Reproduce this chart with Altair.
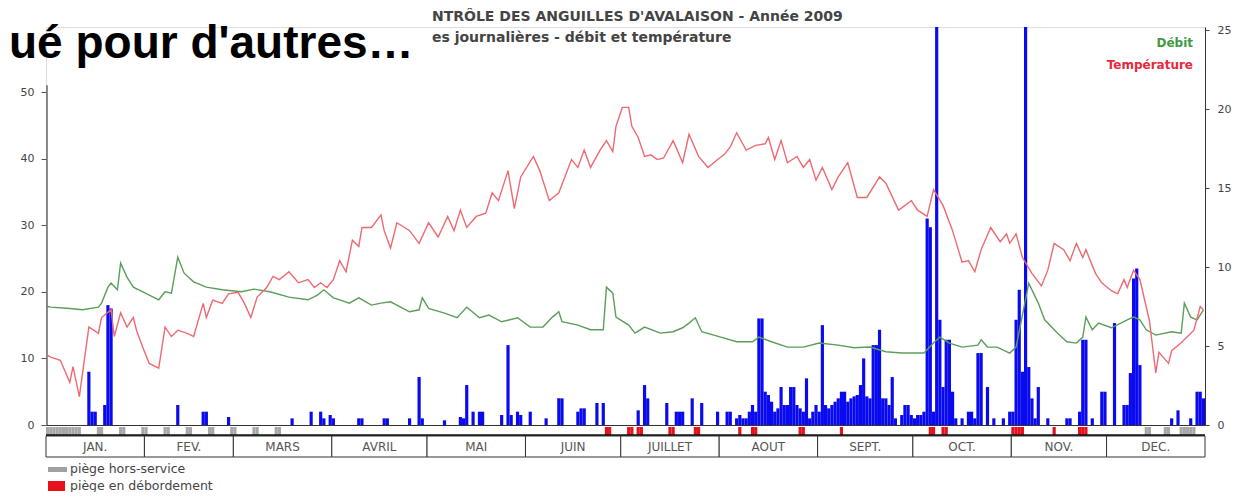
import altair as alt
import pandas as pd

FONT = "Liberation Sans"
WFONT = "DejaVu Sans"

# ---------------- data ----------------
temp_day = [1, 2, 5, 8, 9, 11, 14, 17, 18, 21, 22, 24, 26, 28, 29, 31, 33, 36, 38, 40, 42, 45, 47, 50, 51, 53, 56, 58,
            61, 63, 65, 67, 70, 72, 74, 77, 80, 83, 85, 87, 89, 91, 93, 95, 97, 99, 100, 103, 106, 107, 109, 111, 115,
            118, 121, 124, 127, 129, 131, 133, 136, 139, 141, 143, 146, 147, 148, 150, 154, 156, 159, 162, 166, 168,
            170, 172, 175, 177, 179, 180, 182, 184, 185, 187, 189, 191, 193, 195, 198, 201, 203, 206, 209, 212, 214,
            216, 218, 221, 224, 227, 228, 230, 232, 234, 237, 239, 241, 243, 245, 248, 250, 253, 256, 259, 263, 265,
            269, 273, 275, 278, 280, 283, 286, 289, 291, 293, 295, 298, 301, 303, 304, 306, 308, 311, 314, 316, 318,
            321, 323, 325, 327, 328, 331, 333, 336, 338, 340, 341, 343, 345, 348, 350, 351, 354, 355, 358, 360, 362,
            364, 365]
temp_val = [4.4, 4.3, 4.1, 2.7, 3.7, 1.8, 6.2, 5.8, 6.8, 7.3, 5.6, 7.1, 6.2, 6.8, 6.0, 4.9, 3.9, 3.6, 6.2, 5.6, 6.0,
            5.8, 5.6, 7.7, 6.8, 7.9, 7.7, 8.3, 8.4, 7.7, 6.8, 8.1, 8.7, 9.4, 9.2, 9.7, 9.0, 9.2, 8.7, 9.0, 8.7, 9.2,
            10.4, 9.7, 11.7, 11.3, 12.5, 12.5, 13.3, 12.3, 11.2, 12.8, 12.3, 11.5, 12.8, 11.9, 13.2, 12.3, 13.6, 12.5,
            13.2, 13.4, 14.7, 14.2, 16.1, 14.9, 13.7, 15.7, 17.0, 16.1, 14.2, 14.7, 16.8, 16.3, 17.4, 16.3, 17.4,
            18.0, 17.3, 18.9, 20.1, 20.1, 18.9, 18.2, 17.0, 17.1, 16.8, 16.9, 18.0, 16.6, 18.4, 17.0, 16.3, 16.8,
            17.1, 17.6, 18.5, 17.4, 17.7, 17.8, 18.2, 16.8, 18.0, 16.6, 17.0, 16.3, 16.8, 15.5, 16.3, 14.9, 15.7,
            16.6, 14.4, 14.4, 15.7, 15.3, 13.6, 14.2, 13.6, 13.2, 14.9, 13.9, 12.3, 10.3, 10.4, 9.7, 11.1, 12.5,
            11.6, 12.1, 11.5, 12.1, 10.6, 9.6, 8.8, 9.8, 11.5, 11.1, 10.4, 11.5, 10.6, 11.1, 9.6, 9.0, 8.5, 8.3,
            9.2, 8.7, 9.8, 9.2, 6.6, 3.3, 4.6, 3.9, 4.7, 5.2, 5.6, 6.0, 7.5, 7.3]

debit_day = [1, 2, 8, 12, 17, 18, 20, 21, 23, 24, 26, 28, 31, 36, 38, 40, 42, 44, 47, 51, 56, 62, 66, 71, 77, 83, 86,
             88, 91, 93, 96, 99, 103, 106, 109, 115, 118, 119, 121, 126, 130, 133, 137, 140, 144, 149, 153, 157, 160,
             162, 163, 168, 172, 176, 177, 179, 180, 184, 186, 189, 194, 198, 201, 203, 205, 207, 213, 218, 223, 225,
             229, 234, 239, 244, 250, 255, 260, 265, 270, 277, 280, 282, 285, 289, 294, 295, 297, 300, 304, 306, 310,
             313, 315, 319, 322, 325, 327, 328, 330, 332, 336, 339, 341, 343, 345, 347, 350, 355, 358, 359, 361, 363,
             365]
debit_val = [17.8, 17.7, 17.5, 17.3, 17.7, 18.3, 20.7, 21.3, 20.3, 24.3, 22.2, 20.7, 20.0, 18.8, 20.0, 19.8, 25.2,
             22.8, 21.5, 20.7, 20.3, 20.0, 20.4, 20.0, 19.2, 18.8, 19.5, 20.3, 19.1, 18.8, 18.3, 19.1, 18.0, 18.3,
             18.5, 17.0, 17.3, 19.1, 17.5, 16.8, 16.1, 17.7, 16.1, 16.5, 15.5, 16.1, 14.7, 14.7, 16.2, 17.0, 15.5,
             15.0, 14.3, 14.3, 20.7, 19.8, 16.2, 15.0, 13.8, 14.7, 13.8, 14.0, 14.6, 15.3, 16.1, 14.0, 13.2, 12.5,
             12.5, 13.2, 12.5, 11.7, 11.7, 12.3, 12.0, 11.6, 11.7, 11.0, 10.8, 10.8, 12.3, 13.2, 12.3, 11.7, 12.0,
             12.8, 11.7, 11.7, 10.8, 11.7, 21.3, 18.3, 15.8, 13.8, 12.5, 12.3, 13.2, 16.2, 14.3, 15.3, 14.6, 15.3,
             15.8, 16.2, 15.8, 14.3, 13.5, 14.0, 13.8, 18.3, 16.2, 15.8, 17.3]

bar_day = [14, 15, 16, 19, 20, 21, 42, 50, 51, 58, 78, 84, 87, 88, 90, 91, 99, 100, 107, 108, 115, 118, 119, 126,
           131, 132, 133, 135, 137, 138, 144, 146, 147, 149, 150, 153, 158, 162, 163, 168, 169, 170, 174, 176,
           187, 189, 190, 196, 199, 200, 201, 204, 207, 212, 215, 216, 218, 219, 220, 221, 222, 223, 224, 225, 226,
           227, 228, 229, 230, 231, 232, 233, 234, 235, 236, 237, 238, 239, 240, 241, 242, 243, 244, 245, 246, 247,
           248, 249, 250, 251, 252, 253, 254, 255, 256, 257, 258, 259, 260, 261, 262, 263, 264, 265, 266, 267, 268,
           270, 271, 272, 273, 274, 275, 276, 277, 278, 279, 280, 281, 282, 283, 284, 285, 286, 287, 289, 291, 292,
           293, 294, 295, 297, 299, 302, 304, 305, 306, 307, 308, 309, 310, 311, 312, 313, 316, 322, 323, 326, 327,
           328, 330, 333, 334, 337, 340, 341, 342, 343, 344, 345, 355, 357, 361, 363, 364, 365]
bar_val = [8, 2, 2, 3, 18, 17.5, 3, 2, 2, 1.2, 1, 2, 2, 1, 1.5, 1, 1, 1, 1, 1, 1, 7.2, 1, 0.7,
           1.2, 1, 6, 2, 2, 2, 1.5, 12, 1.5, 2, 1.5, 2, 1, 4, 4, 2, 2.5, 2.5, 3.3, 3.3,
           2.2, 6, 4, 3.3, 2, 2, 2, 4, 3.3, 2, 2, 2, 1, 1.5, 1, 1, 2, 3, 2, 16, 16,
           5, 4.5, 3.5, 2, 2.5, 5.7, 3, 3, 5.7, 5.7, 3, 2.5, 2, 7, 1, 2, 3, 2, 15, 3, 2.5,
           3, 3.5, 4, 5, 5, 3.5, 4, 4.3, 4.5, 6, 10, 4.3, 4, 12, 12, 14.3, 4, 4, 3, 7.2, 1,
           1.5, 3, 3, 1.5, 1, 1.5, 1.5, 2, 31, 29.7, 2, 60, 15.8, 5.7, 12.8, 12.8, 5, 1, 1, 2, 2,
           1, 10.8, 10.8, 5.7, 1, 1, 2, 2, 15.8, 20.3, 8, 60, 8.7, 4, 1, 5.7, 1, 1, 1, 2, 12.8,
           12.8, 1, 5, 5, 15.3, 3, 3, 7.8, 22, 23.5, 9, 1, 2.2, 1, 5, 5, 4]

# piège hors-service (grey) and piège en débordement (red) days
hs_days = [1, 2, 3, 4, 5, 6, 7, 8, 9, 10, 11, 17, 18, 24, 25, 31, 32, 38, 39, 45, 46, 52, 53, 59, 60, 66, 67,
           73, 74, 347, 348, 353, 354, 358, 359, 360, 361, 362]
deb_days = [177, 178, 184, 185, 187, 188, 197, 198, 205, 206, 219, 223, 224, 238, 239, 251, 279, 280, 283, 284,
            305, 306, 307, 308, 318, 326, 327, 328]

month_labels = ["JAN.", "FEV.", "MARS", "AVRIL", "MAI", "JUIN", "JUILLET", "AOUT", "SEPT.", "OCT.", "NOV.", "DEC."]
month_len = [31, 28, 31, 30, 31, 30, 31, 31, 30, 31, 30, 31]

left_ticks = [0, 10, 20, 30, 40, 50]
right_ticks = [0, 5, 10, 15, 20, 25]

# ---------------- tables ----------------
df_temp = pd.DataFrame({"day": temp_day, "t": temp_val})
df_deb = pd.DataFrame({"day": debit_day, "q": debit_val})
df_bar = pd.DataFrame({"day": bar_day, "v": bar_val})
df_bar["x0"] = df_bar["day"] - 0.5
df_bar["x1"] = df_bar["day"] + 0.5
df_bar["z"] = 0

strip = pd.DataFrame({"day": hs_days + deb_days,
                      "kind": ["hs"] * len(hs_days) + ["deb"] * len(deb_days)})
strip["x0"] = strip["day"] - 0.5
strip["x1"] = strip["day"] + 0.5

starts, s = [], 0
for n in month_len:
    starts.append(s)
    s += n
df_m = pd.DataFrame({"label": month_labels,
                     "s": [a + 0.5 for a in starts],
                     "e": [a + n + 0.5 for a, n in zip(starts, month_len)]})
df_m["mid"] = (df_m["s"] + df_m["e"]) / 2

W, H = 1159, 398
XS = alt.Scale(domain=[0.5, 365.5], nice=False, zero=False)
LS = alt.Scale(domain=[0, 59.76], nice=False, zero=True)
RS = alt.Scale(domain=[0, 25.19], nice=False, zero=True)

x_axis = alt.Axis(labels=False, ticks=False, domain=True, domainColor="#333333", domainWidth=1.2,
                  grid=False, title=None)
left_axis = alt.Axis(values=left_ticks, orient="left", domain=False, grid=False,
                     tickColor="#555555", tickSize=5, labelColor="#444444",
                     labelFont=WFONT, labelFontSize=11, labelPadding=7, title=None)

bars = alt.Chart(df_bar).mark_bar(color="#0a0af0", clip=True).encode(
    x=alt.X("x0:Q", scale=XS, axis=x_axis),
    x2="x1:Q",
    y=alt.Y("v:Q", scale=LS, axis=left_axis),
    y2="z:Q",
)

debit = alt.Chart(df_deb).mark_line(color="#5a9e5a", strokeWidth=1.4).encode(
    x=alt.X("day:Q", scale=XS, axis=x_axis),
    y=alt.Y("q:Q", scale=LS, axis=left_axis),
)

laxis = alt.Chart(pd.DataFrame({"a": [0], "b": [51]})).mark_rule(color="#444444", strokeWidth=1.2).encode(
    x=alt.value(1), y=alt.Y("a:Q", scale=LS, axis=left_axis), y2="b:Q")

left = alt.layer(bars, debit, laxis)

temp = alt.Chart(df_temp).mark_line(color="#ee6a72", strokeWidth=1.4).encode(
    x=alt.X("day:Q", scale=XS, axis=x_axis),
    y=alt.Y("t:Q", scale=RS, axis=alt.Axis(values=right_ticks, orient="right", domain=True, domainColor="#333333",
                                           grid=False, tickColor="#444444", tickSize=4, labelColor="#444444",
                                           labelFont=WFONT, labelFontSize=11, labelPadding=8, title=None)),
)

strip_chart = alt.Chart(strip).mark_rect().encode(
    x=alt.X("x0:Q", scale=XS, axis=x_axis), x2="x1:Q",
    y=alt.value(400), y2=alt.value(408),
    color=alt.Color("kind:N", scale=alt.Scale(domain=["hs", "deb"], range=["#a8a8a8", "#e8101a"]), legend=None),
)

mbox = alt.Chart(df_m).mark_rect(fill="white", stroke="#333333", strokeWidth=1).encode(
    x=alt.X("s:Q", scale=XS, axis=x_axis), x2="e:Q", y=alt.value(409), y2=alt.value(430))

mline = alt.Chart(pd.DataFrame({"a": [0.5], "b": [365.5]})).mark_rule(color="#111111", strokeWidth=2.5).encode(
    x=alt.X("a:Q", scale=XS, axis=x_axis), x2="b:Q", y=alt.value(408.5))

mtext = alt.Chart(df_m).mark_text(font=WFONT, fontSize=12, color="#555555", baseline="middle").encode(
    x=alt.X("mid:Q", scale=XS, axis=x_axis), y=alt.value(420), text="label:N")


def txt(s, x, y, size, color, weight="normal", align="left", font=WFONT, baseline="alphabetic"):
    return alt.Chart(pd.DataFrame({"t": [s]})).mark_text(
        font=font, fontSize=size, color=color, fontWeight=weight, align=align, baseline=baseline
    ).encode(x=alt.value(x), y=alt.value(y), text="t:N")


texts = [
    txt("ué pour d'autres…", -37, 31, 46, "#000000", "bold", font=FONT),
    txt("NTRÔLE DES ANGUILLES D'AVALAISON - Année 2009", 386, -6, 14, "#444444", "bold"),
    txt("es journalières - débit et température", 386, 15, 14, "#444444", "bold"),
    txt("Débit", 1147, 20, 12, "#3f9a3f", "bold", "right"),
    txt("Température", 1147, 42, 12, "#e8283c", "bold", "right"),
    txt("piège hors-service", 24, 442, 12.5, "#444444", baseline="middle"),
    txt("piège en débordement", 24, 459, 12.5, "#444444", baseline="middle"),
]

sw1 = alt.Chart(pd.DataFrame({"k": [0]})).mark_rect(color="#a0a0a0").encode(
    x=alt.value(2), x2=alt.value(21), y=alt.value(440), y2=alt.value(445))
sw2 = alt.Chart(pd.DataFrame({"k": [0]})).mark_rect(color="#e8101a").encode(
    x=alt.value(2), x2=alt.value(19), y=alt.value(454), y2=alt.value(464))

chart = alt.layer(left, temp, strip_chart, mline, mbox, mtext, sw1, sw2, *texts).resolve_scale(
    y="independent", color="independent"
).properties(
    width=W, height=H,
    autosize=alt.AutoSizeParams(type="none"),
    padding={"left": 38, "top": 19, "right": 27, "bottom": 67},
).configure_view(stroke=None).configure(background="white")

chart.save("out.html", embed_options={"renderer": "svg", "actions": False})
